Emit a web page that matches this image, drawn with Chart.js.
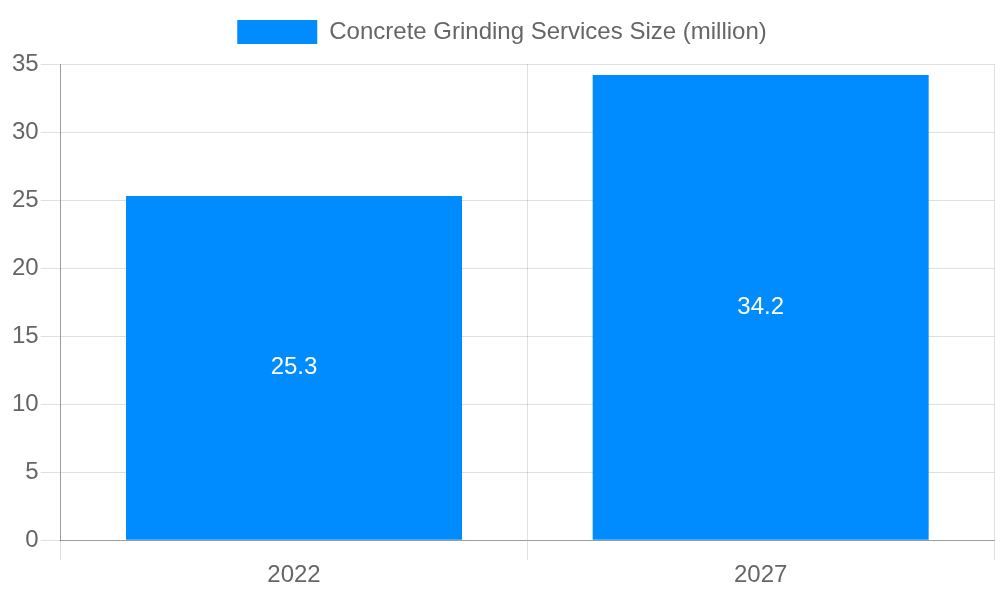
<!DOCTYPE html>
<html>
<head>
<meta charset="utf-8">
<script src="https://cdn.jsdelivr.net/npm/chart.js@4"></script>
<style>
  html, body { margin: 0; padding: 0; background: #fff; }
  #wrap { width: 1000px; height: 600px; }
</style>
</head>
<body>
<div id="wrap"><canvas id="myChart"></canvas></div>
<script>
'use strict';

/* Chart data */
const years = ['2022', '2027'];
const sizes = [25.3, 34.2];
const seriesName = 'Concrete Grinding Services Size (million)';

/* Draw value labels in the middle of each bar */
const barLabels = {
    id: 'barLabels',
    afterDatasetsDraw(chart) {
        const ctx = chart.ctx;
        ctx.save();
        ctx.fillStyle = '#ffffff';
        ctx.font = '24px "Liberation Sans", Arial, sans-serif';
        ctx.textAlign = 'center';
        ctx.textBaseline = 'middle';
        chart.getDatasetMeta(0).data.forEach((bar, i) => {
            const mid = (bar.y + bar.base) / 2;
            ctx.fillText(sizes[i], bar.x, mid);
        });
        ctx.restore();
    }
};

/* Extra room under the legend */
const legendGap = {
    id: 'legendGap',
    beforeInit(chart) {
        const fit = chart.legend.fit;
        chart.legend.fit = function() {
            fit.bind(chart.legend)();
            this.height += 10;
        };
    }
};

Chart.defaults.font.family = '"Liberation Sans", Arial, sans-serif';
Chart.defaults.font.size = 24;
Chart.defaults.color = '#666';

const config = {
    type: 'bar',
    data: {
        labels: years,
        datasets: [{
            label: seriesName,
            data: sizes,
            backgroundColor: '#008cff',
            borderWidth: 0
        }]
    },
    options: {
        responsive: true,
        maintainAspectRatio: false,
        animation: false,
        layout: { padding: { left: 10, right: 6, top: 0, bottom: 9 } },
        plugins: {
            legend: {
                labels: {
                    boxWidth: 80,
                    boxHeight: 24,
                    padding: 20
                }
            },
            tooltip: { enabled: false }
        },
        scales: {
            x: {
                grid: { tickLength: 20, color: 'rgba(0,0,0,0.12)' },
                border: { color: 'rgba(0,0,0,0.3)' },
                ticks: { padding: 1 }
            },
            y: {
                min: 0,
                max: 35,
                ticks: { stepSize: 5, padding: 2 },
                grid: { tickLength: 20, color: 'rgba(0,0,0,0.12)' },
                border: { color: 'rgba(0,0,0,0.3)' }
            }
        }
    },
    plugins: [barLabels, legendGap]
};

var myChart = new Chart(document.getElementById('myChart'), config);
</script>
</body>
</html>
